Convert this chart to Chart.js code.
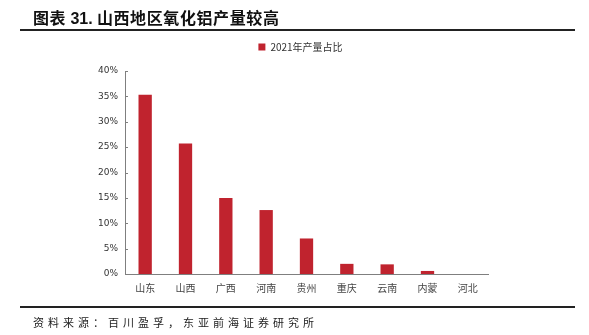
<!DOCTYPE html>
<html><head><meta charset="utf-8">
<script src="https://cdn.jsdelivr.net/npm/chart.js@4.4.0/dist/chart.umd.min.js"></script>
<style>
html,body{margin:0;padding:0;background:#fff;width:589px;height:335px;overflow:hidden;}
#title{position:absolute;left:33px;top:5px;font:bold 16px "Noto Sans CJK SC","Liberation Sans",sans-serif;color:#111;white-space:nowrap;letter-spacing:0.6px;}
#title .n{font-family:"Liberation Sans",Arial,sans-serif;font-weight:bold;letter-spacing:0;}
#l1{position:absolute;left:20px;top:29px;width:555px;height:2px;background:#222;}
#l2{position:absolute;left:20px;top:306px;width:555px;height:2px;background:#222;}
#src{position:absolute;left:33px;top:314px;font:11px "Noto Sans CJK SC",sans-serif;color:#222;white-space:nowrap;letter-spacing:4px;}
#wrap{position:absolute;left:0;top:0;width:589px;height:335px;}
</style></head>
<body>
<div id="wrap"><canvas id="c" width="589" height="335"></canvas></div>
<div id="title">图表 <span class="n">31.</span> 山西地区氧化铝产量较高</div>
<div id="l1"></div>
<div id="l2"></div>
<div id="src">资料来源：百川盈孚，东亚前海证券研究所</div>
<script>
const categories = ["山东","山西","广西","河南","贵州","重庆","云南","内蒙","河北"];
const share2021 = [0.353, 0.257, 0.150, 0.126, 0.070, 0.020, 0.019, 0.006, 0.0];
const seriesName = "2021年产量占比";
const yTicks = [0,0.05,0.10,0.15,0.20,0.25,0.30,0.35,0.40];

const innerTicks = {
  id:'innerTicks',
  afterDraw(chart){
    const y = chart.scales.y, ctx = chart.ctx, x0 = chart.chartArea.left;
    ctx.save();
    ctx.strokeStyle = '#7f7f7f'; ctx.lineWidth = 1;
    yTicks.forEach(v=>{
      const py = Math.round(y.getPixelForValue(v))+0.5;
      ctx.beginPath(); ctx.moveTo(x0, py); ctx.lineTo(x0+3, py); ctx.stroke();
    });
    ctx.restore();
  }
};
const legendGap = {
  id:'legendGap',
  beforeLayout(chart){
    const lg = chart.legend;
    if (lg && !lg._gapPatched){
      const f = lg.fit.bind(lg);
      lg.fit = function(){ f(); this.height += 9; };
      lg._gapPatched = true;
    }
  },
  afterLayout(chart){
    const lg = chart.legend;
    if (lg){ lg.left += 14; lg.right += 14; }
  }
};

new Chart(document.getElementById('c'), {
  type:'bar',
  data:{labels:categories, datasets:[{label:seriesName, data:share2021,
    backgroundColor:'#C0232E', borderWidth:0,
    categoryPercentage:1.0, barPercentage:0.33}]},
  options:{
    responsive:false, animation:false, devicePixelRatio:1,
    layout:{padding:{left:85,right:101,top:32,bottom:31}},
    plugins:{
      legend:{position:'top', labels:{boxWidth:7, boxHeight:7, padding:10,
        font:{family:'"Noto Sans CJK SC","Liberation Serif"', size:10}, color:'#333'}},
      tooltip:{enabled:false}
    },
    scales:{
      x:{grid:{display:false, drawTicks:false},
         border:{display:true, color:'#7f7f7f', width:1},
         ticks:{padding:8, color:'#444', font:{family:'"Noto Sans CJK SC"', size:10}},
         afterFit(s){s.height=30;}},
      y:{min:0,max:0.4,
         grid:{display:false, drawTicks:false},
         border:{display:true, color:'#7f7f7f', width:1},
         afterBuildTicks(s){s.ticks = yTicks.map(v=>({value:v}));},
         ticks:{padding:7, color:'#333', font:{family:'"DejaVu Sans"', size:9},
           callback:v=>Math.round(v*100)+'%'},
         afterFit(s){s.width=40;}}
    }
  },
  plugins:[innerTicks, legendGap]
});
</script>
</body></html>
